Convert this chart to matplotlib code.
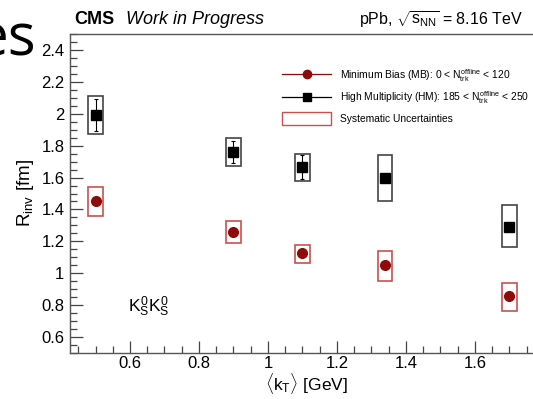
import numpy as np
import matplotlib
matplotlib.use("Agg")
import matplotlib.pyplot as plt
from matplotlib.patches import Rectangle
from matplotlib.lines import Line2D
from matplotlib.ticker import MultipleLocator

plt.rcParams['font.family'] = ['Liberation Sans', 'DejaVu Sans']
plt.rcParams['mathtext.fontset'] = 'custom'
plt.rcParams['mathtext.rm'] = 'Liberation Sans'
plt.rcParams['mathtext.it'] = 'Liberation Sans'
plt.rcParams['mathtext.bf'] = 'Liberation Sans:bold'

# kT bins
kt = [0.5, 0.9, 1.1, 1.34, 1.70]

# minimum bias
mb_r = [1.45, 1.26, 1.125, 1.05, 0.855]
mb_stat = [0.01, 0.01, 0.01, 0.01, 0.01]
mb_sys_lo = [1.36, 1.19, 1.067, 0.953, 0.765]
mb_sys_hi = [1.54, 1.325, 1.18, 1.14, 0.94]

# high multiplicity
hm_r = [1.99, 1.76, 1.665, 1.595, 1.29]
hm_stat = [0.10, 0.07, 0.075, 0.02, 0.01]
hm_sys_lo = [1.87, 1.67, 1.58, 1.45, 1.167]
hm_sys_hi = [2.11, 1.847, 1.75, 1.74, 1.425]

red = '#8e0b0b'
red_box = '#c9504f'
box_w = 0.042

W, H = 533, 399
fig = plt.figure(figsize=(5.33, 3.99), dpi=100)
ax = fig.add_axes([70 / W, 46 / H, 0.889, 319 / H])

# systematic boxes
for x, lo, hi in zip(kt, mb_sys_lo, mb_sys_hi):
    ax.add_patch(Rectangle((x - box_w / 2, lo), box_w, hi - lo, fill=False,
                           edgecolor=red_box, lw=1.2))
for x, lo, hi in zip(kt, hm_sys_lo, hm_sys_hi):
    ax.add_patch(Rectangle((x - box_w / 2, lo), box_w, hi - lo, fill=False,
                           edgecolor='#444444', lw=1.2))

ax.errorbar(kt, hm_r, yerr=hm_stat, fmt='s', color='black', ms=6.5,
            elinewidth=0.8, capsize=1.5, capthick=0.8)
ax.errorbar(kt, mb_r, yerr=mb_stat, fmt='o', color=red, ms=7,
            elinewidth=0.8, capsize=1.5, capthick=0.8)

ax.set_xlim(0.426, 1.80)
ax.set_ylim(0.5, 2.5)
ax.xaxis.set_minor_locator(MultipleLocator(0.05))
ax.yaxis.set_minor_locator(MultipleLocator(0.05))
ax.set_yticks(np.arange(0.6, 2.41, 0.2))
ax.set_yticklabels(['0.6', '0.8', '1', '1.2', '1.4', '1.6', '1.8', '2', '2.2', '2.4'])
ax.set_xticks(np.arange(0.6, 1.61, 0.2))
ax.set_xticklabels(['0.6', '0.8', '1', '1.2', '1.4', '1.6'])
ax.tick_params(which='both', direction='in', color='#444444', labelsize=12)
ax.tick_params(which='major', length=9, width=0.9)
ax.tick_params(which='minor', length=5, width=0.9)
ax.tick_params(axis='y', pad=4)
ax.tick_params(axis='x', pad=2)
for s in ax.spines.values():
    s.set_color('#555555')
    s.set_linewidth(1.0)

ax.set_xlabel(r'$\langle k_{\rm T}\rangle$ [GeV]', fontsize=12.5, labelpad=0.5)
ax.set_ylabel(r'$R_{\rm inv}$ [fm]', fontsize=13.5, labelpad=4)

ax.text(128 / W, 1 - 307 / H, r'$K^{0}_{S}K^{0}_{S}$', fontsize=12.5,
        transform=fig.transFigure, va='center', ha='left')

# header
fig.text(74 / W, 1 - 20 / H, 'CMS', fontsize=13, fontweight='bold', va='center')
fig.text(126 / W, 1 - 20 / H, 'Work in Progress', fontsize=13, style='italic', va='center')
fig.text(523 / W, 1 - 20 / H, r'pPb, $\sqrt{s_{\rm NN}}$ = 8.16 TeV', fontsize=11.5,
         ha='right', va='center')

fig.text(36 / W, 1 - 55 / H, 'es', fontsize=42, family='Open Sans',
         ha='right', va='baseline')

handles = [
    Line2D([], [], color=red, marker='o', ms=6, lw=0.9),
    Line2D([], [], color='black', marker='s', ms=5.5, lw=0.9),
    Rectangle((0, 0), 1, 1, fill=False, edgecolor=red_box, lw=1.0),
]
labels = [
    r'Minimum Bias (MB): 0 < $N_{\rm trk}^{\rm offline}$ < 120',
    r'High Multiplicity (HM): 185 < $N_{\rm trk}^{\rm offline}$ < 250',
    'Systematic Uncertainties',
]
fig.legend(handles, labels, loc='upper left', bbox_to_anchor=(278 / W, 1 - 63 / H),
           frameon=False, fontsize=7.4, handlelength=4.8, handleheight=1.5,
           labelspacing=0.55, handletextpad=0.8, borderaxespad=0)

fig.savefig('out.png', dpi=100)
